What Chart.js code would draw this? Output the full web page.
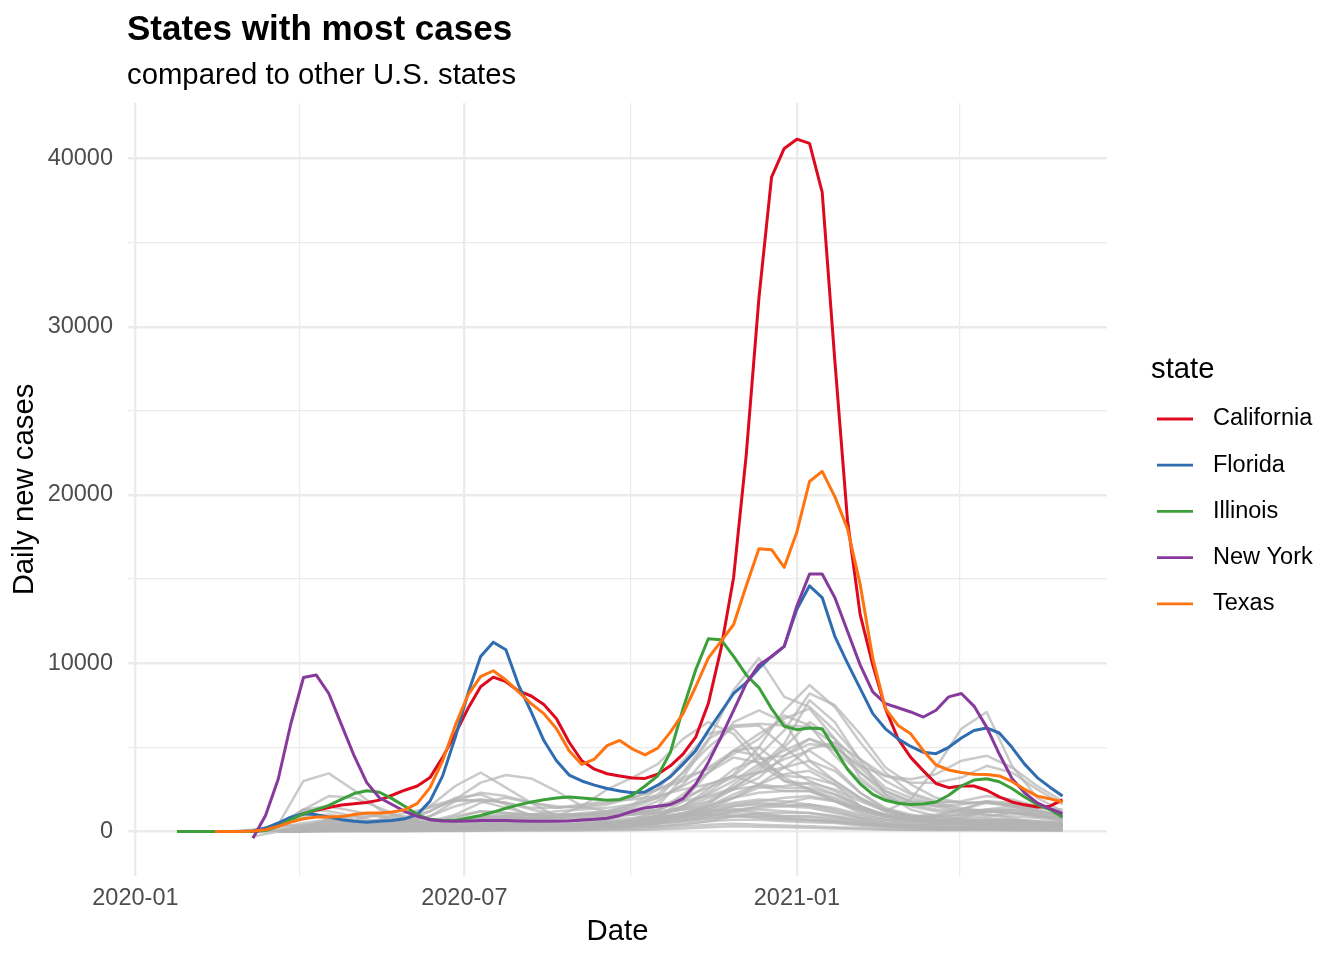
<!DOCTYPE html>
<html><head><meta charset="utf-8">
<script src="https://cdn.jsdelivr.net/npm/chart.js@4.4.1/dist/chart.umd.min.js"></script>
<style>html,body{margin:0;padding:0;background:#fff;}canvas{display:block;}</style>
</head><body>
<canvas id="c" width="1344" height="960"></canvas>
<script>
// ---------- DATA ----------
const weekDates = ['2020-01-24','2020-01-31','2020-02-07','2020-02-14','2020-02-21','2020-02-28','2020-03-06','2020-03-13','2020-03-20','2020-03-27',
'2020-04-03','2020-04-10','2020-04-17','2020-04-24','2020-05-01','2020-05-08','2020-05-15','2020-05-22','2020-05-29','2020-06-05',
'2020-06-12','2020-06-19','2020-06-26','2020-07-03','2020-07-10','2020-07-17','2020-07-24','2020-07-31','2020-08-07','2020-08-14',
'2020-08-21','2020-08-28','2020-09-04','2020-09-11','2020-09-18','2020-09-25','2020-10-02','2020-10-09','2020-10-16','2020-10-23',
'2020-10-30','2020-11-06','2020-11-13','2020-11-20','2020-11-27','2020-12-04','2020-12-11','2020-12-18','2020-12-25','2021-01-01',
'2021-01-08','2021-01-15','2021-01-22','2021-01-29','2021-02-05','2021-02-12','2021-02-19','2021-02-26','2021-03-05','2021-03-12',
'2021-03-19','2021-03-26','2021-04-02','2021-04-09','2021-04-16','2021-04-23','2021-04-30','2021-05-07','2021-05-14','2021-05-21','2021-05-28'];
const biweekDates = weekDates.filter((d, i) => i % 2 === 0);

const stateNames = ['California', 'Florida', 'Illinois', 'New York', 'Texas'];
const stateColors = ['#DD0A1F', '#2F6DB0', '#3CA03A', '#873A9B', '#FF7410'];

const californiaCases = [0,0,0,0,0,0,0,100,350,750,1050,1250,1420,1570,1650,1720,1860,2150,2450,2700,
3200,4400,5800,7300,8600,9170,8900,8350,8050,7550,6700,5300,4200,3700,3430,3300,3180,3150,3400,3900,
4600,5600,7600,10850,15100,22400,31700,38900,40600,41150,40900,38000,28000,18500,12900,9900,7300,5500,4400,3600,
2850,2600,2700,2700,2450,2050,1750,1580,1450,1500,1880];
const floridaCases = [null,null,null,null,null,0,20,200,500,850,1050,1000,850,700,600,550,600,650,750,1000,
1800,3300,5600,8200,10400,11250,10800,8700,7100,5400,4200,3350,3000,2750,2550,2400,2300,2350,2750,3250,
4000,4800,6000,7100,8200,8850,9700,10400,11000,13200,14600,13900,11600,10000,8500,7000,6100,5500,5050,4700,
4620,5000,5550,6000,6150,5850,5000,4000,3200,2630,2100];
const illinoisCases = [0,0,0,0,0,0,0,50,300,700,1050,1300,1550,1900,2250,2420,2330,1950,1500,1000,
720,650,650,800,950,1150,1380,1580,1750,1880,1980,2040,1980,1930,1860,1900,2150,2700,3300,4700,
7300,9600,11450,11400,10400,9300,8550,7300,6250,6050,6150,6100,4900,3700,2830,2200,1850,1670,1600,1630,
1750,2150,2700,3050,3130,2950,2550,2050,1600,1300,850];
const newYorkCases = [null,null,null,null,null,null,-400,950,3100,6400,9150,9300,8200,6350,4500,2900,2000,1600,1200,900,
700,620,600,620,650,650,650,620,600,600,600,620,680,720,780,950,1200,1400,1500,1600,
1950,2800,4100,5600,7200,8800,9900,10400,11000,13400,15300,15300,13900,11900,9900,8300,7600,7350,7100,6800,
7200,8000,8200,7450,6200,4600,3150,2300,1700,1350,1050];
const texasCases = [null,null,null,0,0,0,20,100,300,550,750,850,850,880,1000,1090,1090,1150,1280,1670,
2600,4200,6300,8100,9200,9550,9000,8300,7600,7000,6100,4800,3980,4300,5100,5410,4900,4550,4950,5900,
7000,8600,10300,11300,12300,14600,16800,16750,15700,17800,20800,21400,19900,18000,14700,10300,7300,6300,5800,4800,
3950,3650,3500,3400,3380,3300,2970,2500,2100,1940,1750];
const stateCases = [californiaCases, floridaCases, illinoisCases, newYorkCases, texasCases];

// other U.S. states (biweekly readings)
const otherState01 = [null,null,null,0,400,3000,3450,2450,1300,700,450,380,350,380,400,350,380,450,600,900,1500,2500,3700,4300,4500,5200,5000,3900,3300,3100,3400,4200,4500,3800,2700,1800];
const otherState02 = [null,null,null,0,300,1300,2100,2000,1400,800,400,300,250,300,350,350,380,450,600,900,1500,2200,3000,4000,4800,5500,4800,3500,2200,1700,1500,1600,1800,1500,1000,600];
const otherState03 = [null,null,null,0,50,150,200,300,400,800,1500,2700,3500,2600,1700,900,500,500,700,900,1100,1600,2800,3800,5200,7800,6500,4200,2200,1300,900,700,600,600,550,500];
const otherState04 = [null,null,null,0,200,500,700,600,600,800,1200,1900,2900,3350,3150,2400,1500,1200,1100,1200,1400,1800,2600,3600,5000,6500,5500,4000,2600,2000,1600,1300,1200,1100,1000,800];
const otherState05 = [null,null,null,0,300,1300,1500,1200,900,600,500,600,800,850,750,700,650,800,1000,1500,3200,5400,8400,10300,8000,7400,6000,4300,3300,2900,2900,3200,3900,3500,2500,1600];
const otherState06 = [null,null,null,0,50,400,600,550,450,400,500,900,1200,1100,1000,900,850,700,800,1000,1500,2300,3400,5000,7200,8700,7400,5300,3500,2300,1800,1700,1700,1500,1200,900];
const otherState07 = [null,null,null,0,50,200,350,500,700,1100,1400,1800,1900,1700,1400,1400,1600,1800,1900,2100,2500,2800,3300,4500,6000,8200,7500,5800,3800,2800,2000,1700,1700,1600,1500,1200];
const otherState08 = [null,null,null,0,400,1300,1200,900,550,400,300,500,600,700,650,700,800,900,1200,1800,2800,4500,6500,7200,6500,4200,3000,2000,1200,1900,3800,6100,7100,3900,2000,1200];
const otherState09 = [null,null,null,null,0,30,100,200,300,350,400,600,800,850,750,800,1000,1200,1500,2200,3500,5000,6200,6300,5000,3800,3000,2000,1300,900,700,700,800,700,600,500];
const otherState10 = [null,null,null,null,0,300,600,600,500,450,500,800,1200,1100,1000,1000,1000,1100,1400,2000,3500,5500,6300,6400,6300,6200,5200,3500,2400,1800,1700,1800,2100,1900,1500,1100];
const otherState11 = [null,null,null,null,0,200,400,500,500,500,600,1000,1700,2000,1700,1400,1500,1700,2000,2500,3000,3800,4800,5800,6700,7300,5500,3200,2000,1500,1200,1100,1200,1100,900,800];
const otherState12 = [null,null,null,null,0,50,200,500,700,500,400,500,700,700,700,900,1100,1200,1600,2500,4200,5800,6100,4500,3000,2500,1800,1200,900,800,900,1300,1700,1600,1200,800];
const otherState13 = [null,null,null,null,0,50,200,300,400,350,400,700,900,900,800,900,1500,2500,3200,4000,5500,6500,5800,4000,3000,2800,2200,1500,1000,700,600,600,700,650,550,450];
const otherState14 = [null,null,null,null,0,100,200,300,400,500,900,1800,2300,2100,1700,1500,1400,1600,2000,2500,3200,3700,4600,5500,6900,6300,4500,3000,2000,1600,1300,1200,1300,1300,1200,1000];
const otherState15 = [null,null,null,null,0,100,150,150,250,700,1500,1900,1800,1400,1000,900,900,900,1000,1100,1300,1700,2500,3200,4500,5500,5000,3800,2400,1800,1500,1200,1000,900,800,600];
const otherState16 = [null,null,null,null,0,150,200,300,350,600,900,1500,1900,1700,1300,1000,1000,1000,1000,1300,1800,2100,2600,3500,4300,4800,3800,2300,1300,900,700,500,400,400,350,300];
const otherState17 = [null,null,null,0,300,1200,700,500,400,600,1200,2000,2200,1600,900,700,700,600,600,800,1000,1500,2200,2800,3400,3600,2800,1500,900,700,500,450,400,400,350,300];
const otherState18 = [null,null,null,null,0,150,300,400,400,300,300,400,500,550,400,400,400,500,700,1200,2200,3500,4800,5000,3800,3000,2400,1500,900,700,600,800,1200,1300,1000,700];
const otherState19 = [null,null,null,null,0,100,200,300,250,200,200,300,600,900,1000,1200,1300,1400,1600,2000,2700,3500,4400,4100,3300,3200,2800,1900,1200,900,600,500,450,450,400,400];
const otherState20 = [null,null,null,null,0,200,500,700,1000,900,600,600,900,1000,900,900,1000,1000,1000,1100,1300,1500,2000,2800,3800,4900,5300,4300,3000,2200,1700,1400,1200,1100,900,800];
const otherState21 = [null,null,null,null,0,300,700,900,900,700,450,400,500,600,600,600,600,550,600,700,900,1300,2000,2600,2700,2900,2500,1800,1200,900,800,900,1200,1200,900,700];
const otherState22 = [null,null,null,0,300,900,1000,700,500,250,100,80,80,100,100,150,150,200,300,500,900,1500,2000,2300,2400,2400,1900,1300,900,800,900,1000,1000,800,500,350];
const otherState23 = [null,null,null,null,null,50,100,150,200,200,300,500,700,800,800,900,1000,1100,1300,1500,2000,2600,3200,3500,3800,4200,3600,2300,1400,1000,700,500,400,400,350,300];
const otherState24 = [null,null,null,null,0,300,400,400,300,250,200,300,500,500,400,300,300,400,600,900,1800,3500,4800,4500,3200,2500,2000,1400,1000,900,900,1000,1300,1500,1400,1300];
const otherState25 = [null,null,null,null,null,50,100,150,150,200,400,600,700,600,400,400,450,700,1100,1300,1800,2800,3300,2800,2600,2600,2200,1500,900,700,500,400,400,400,400,350];
const otherState26 = [0,0,0,100,350,350,250,200,250,350,500,700,800,700,600,400,400,500,700,900,1400,2000,2500,2700,2400,2400,1800,1100,800,700,700,800,900,1100,1100,1000];
const otherState27 = [null,null,null,null,0,50,100,100,120,150,200,300,400,400,350,300,300,350,450,600,800,1100,1500,1700,1600,1500,1200,800,500,400,350,300,300,300,250,200];
const otherState28 = [null,null,null,null,0,20,50,80,100,100,100,150,200,250,250,250,300,400,600,800,1000,1200,1300,1100,900,900,800,600,400,300,250,250,250,200,200,150];
const otherState29 = [null,null,null,-300,0,100,150,150,150,150,200,250,300,300,250,250,250,300,350,450,600,800,900,850,750,700,600,450,350,300,250,250,250,250,200,150];
const otherState30 = [null,null,null,null,0,30,60,80,80,80,100,150,250,300,300,250,250,300,400,600,900,1000,950,800,700,650,550,400,300,250,200,200,200,200,150,150];
const otherState31 = [null,null,null,null,0,100,300,400,300,200,150,150,200,250,200,200,200,200,250,300,400,600,900,1100,1100,1100,900,600,400,350,400,500,600,600,500,400];
const otherState32 = [null,null,null,null,0,20,40,60,60,60,80,120,200,250,250,200,200,200,250,300,450,600,700,700,600,550,500,350,250,200,150,150,150,150,120,100];
const otherState33 = [null,null,null,null,0,10,20,30,30,30,40,60,80,100,120,150,200,250,350,500,700,900,1100,1000,800,700,600,450,300,200,150,150,150,120,100,80];
const otherState34 = [null,null,null,null,0,20,30,30,30,30,40,50,60,80,80,90,100,120,150,200,300,400,450,400,350,300,250,200,150,100,100,100,100,90,80,60];
const otherState35 = [null,null,null,null,0,10,20,20,20,20,20,30,40,50,50,50,60,70,90,120,180,250,300,280,250,220,180,140,100,80,70,70,70,60,50,40];
const otherState36 = [null,null,null,null,0,300,500,400,300,200,150,150,200,300,300,250,250,300,400,500,700,900,1200,1500,1700,2000,1800,1400,1000,900,1000,1300,1800,1700,1300,900];
const otherState37 = [null,null,null,null,0,40,80,100,100,120,150,200,300,350,300,300,350,400,500,700,900,1200,1500,1600,1500,1400,1100,800,600,500,450,450,500,450,400,300];
const otherState38 = [null,null,null,null,0,50,100,150,150,150,200,300,400,450,400,400,450,500,600,800,1100,1400,1700,1900,1800,1600,1300,900,700,600,550,600,650,600,500,400];
const otherState39 = [null,null,null,null,0,20,50,60,70,80,100,150,200,250,250,300,350,400,500,650,800,1000,1200,1300,1200,1100,900,700,500,400,350,350,400,350,300,250];
const otherState40 = [null,null,null,null,0,60,120,150,150,150,180,250,350,400,400,400,400,450,550,700,1000,1300,1600,1800,2000,2100,1800,1300,900,700,600,600,700,700,600,500];
const otherState41 = [null,null,null,null,0,10,30,40,50,60,80,100,150,180,200,220,250,300,350,450,600,750,900,950,900,850,700,500,350,300,250,250,250,220,200,180];
const otherState42 = [null,null,null,null,0,30,60,80,100,120,150,250,400,500,450,400,400,450,550,700,900,1100,1300,1400,1500,1600,1400,1000,700,550,500,500,550,500,450,350];
const otherStates = [otherState01,otherState02,otherState03,otherState04,otherState05,otherState06,otherState07,otherState08,otherState09,
otherState10,otherState11,otherState12,otherState13,otherState14,otherState15,otherState16,otherState17,otherState18,otherState19,
otherState20,otherState21,otherState22,otherState23,otherState24,otherState25,otherState26,otherState27,otherState28,otherState29,
otherState30,otherState31,otherState32,otherState33,otherState34,otherState35,otherState36,otherState37,otherState38,otherState39,
otherState40,otherState41,otherState42];

const xTickDates = ['2020-01-01','2020-04-01','2020-07-01','2020-10-01','2021-01-01','2021-04-01'];
const xTickLabels = ['2020-01','','2020-07','','2021-01',''];
const yTickValues = [0,5000,10000,15000,20000,25000,30000,35000,40000];
const yTickLabels = ['0','','10000','','20000','','30000','','40000'];

const titleText = 'States with most cases';
const subtitleText = 'compared to other U.S. states';
const legendTitle = 'state';

// ---------- BUILD ----------
const FONT = '"Liberation Sans", Arial, Helvetica, sans-serif';
const dayOf = s => (Date.UTC(+s.slice(0,4), +s.slice(5,7)-1, +s.slice(8,10)) - Date.UTC(2020,0,1)) / 86400000;
const toPoints = (dates, values) => values.map((v, i) => ({x: dayOf(dates[i]), y: v}));

const datasets = [];
stateNames.forEach((name, i) => {
  datasets.push({
    label: name, data: toPoints(weekDates, stateCases[i]),
    borderColor: stateColors[i], borderWidth: 3, pointRadius: 0, tension: 0,
    borderJoinStyle: 'round', order: 4 - i
  });
});
otherStates.forEach((vals, i) => {
  datasets.push({
    label: 'other' + i, data: toPoints(biweekDates, vals),
    borderColor: 'rgba(179,179,179,0.7)', borderWidth: 2.5, pointRadius: 0, tension: 0,
    borderJoinStyle: 'round', order: 10
  });
});

const textPlugin = {
  id: 'textPlugin',
  afterDraw(chart) {
    const ctx = chart.ctx;
    ctx.save();
    ctx.fillStyle = '#000';
    ctx.textAlign = 'left';
    ctx.textBaseline = 'alphabetic';
    ctx.font = 'bold 35px ' + FONT;
    ctx.fillText(titleText, 127, 40);
    ctx.font = '29.3px ' + FONT;
    ctx.fillText(subtitleText, 127, 84);
    ctx.fillText(legendTitle, 1151, 378);
    ctx.textBaseline = 'middle';
    ctx.font = '23.5px ' + FONT;
    stateNames.forEach((name, i) => {
      const y = 419 + i * 46.2;
      ctx.strokeStyle = stateColors[i];
      ctx.lineWidth = 2.8;
      ctx.beginPath(); ctx.moveTo(1157, y); ctx.lineTo(1193, y); ctx.stroke();
      ctx.fillStyle = '#000';
      ctx.fillText(name, 1213, y);
    });
    ctx.restore();
  }
};

Chart.defaults.font.family = FONT;
new Chart(document.getElementById('c'), {
  type: 'line',
  data: {datasets},
  plugins: [textPlugin],
  options: {
    responsive: false, animation: false, devicePixelRatio: 1,
    layout: {padding: {left: 0, right: 237, top: 103, bottom: 0}, autoPadding: false},
    plugins: {legend: {display: false}, title: {display: false}, tooltip: {enabled: false}},
    scales: {
      x: {
        type: 'linear', min: -4.1, max: 537.6,
        afterBuildTicks: s => { s.ticks = xTickDates.map(d => ({value: dayOf(d)})); },
        afterFit: s => { s.height = 84; },
        ticks: {autoSkip: false, maxRotation: 0, padding: 8, color: '#4D4D4D', font: {size: 23.5},
          callback: (v, i) => xTickLabels[i]},
        grid: {color: '#EBEBEB', drawTicks: false, lineWidth: c => (xTickLabels[c.index] ? 2.4 : 1.2)},
        border: {display: false},
        title: {display: true, text: 'Date', color: '#000', font: {size: 29.3}, padding: {top: 4, bottom: 11}}
      },
      y: {
        type: 'linear', min: -2650, max: 43300,
        afterBuildTicks: s => { s.ticks = yTickValues.map(v => ({value: v})); },
        afterFit: s => { s.width = 128; },
        ticks: {padding: 15, color: '#4D4D4D', font: {size: 23.5}, callback: (v, i) => yTickLabels[i]},
        grid: {color: '#EBEBEB', drawTicks: false, lineWidth: c => (yTickLabels[c.index] ? 2.4 : 1.2)},
        border: {display: false},
        title: {display: true, text: 'Daily new cases', color: '#000', font: {size: 29.3}, padding: {top: 7, bottom: 0}}
      }
    }
  }
});
</script>
</body></html>
